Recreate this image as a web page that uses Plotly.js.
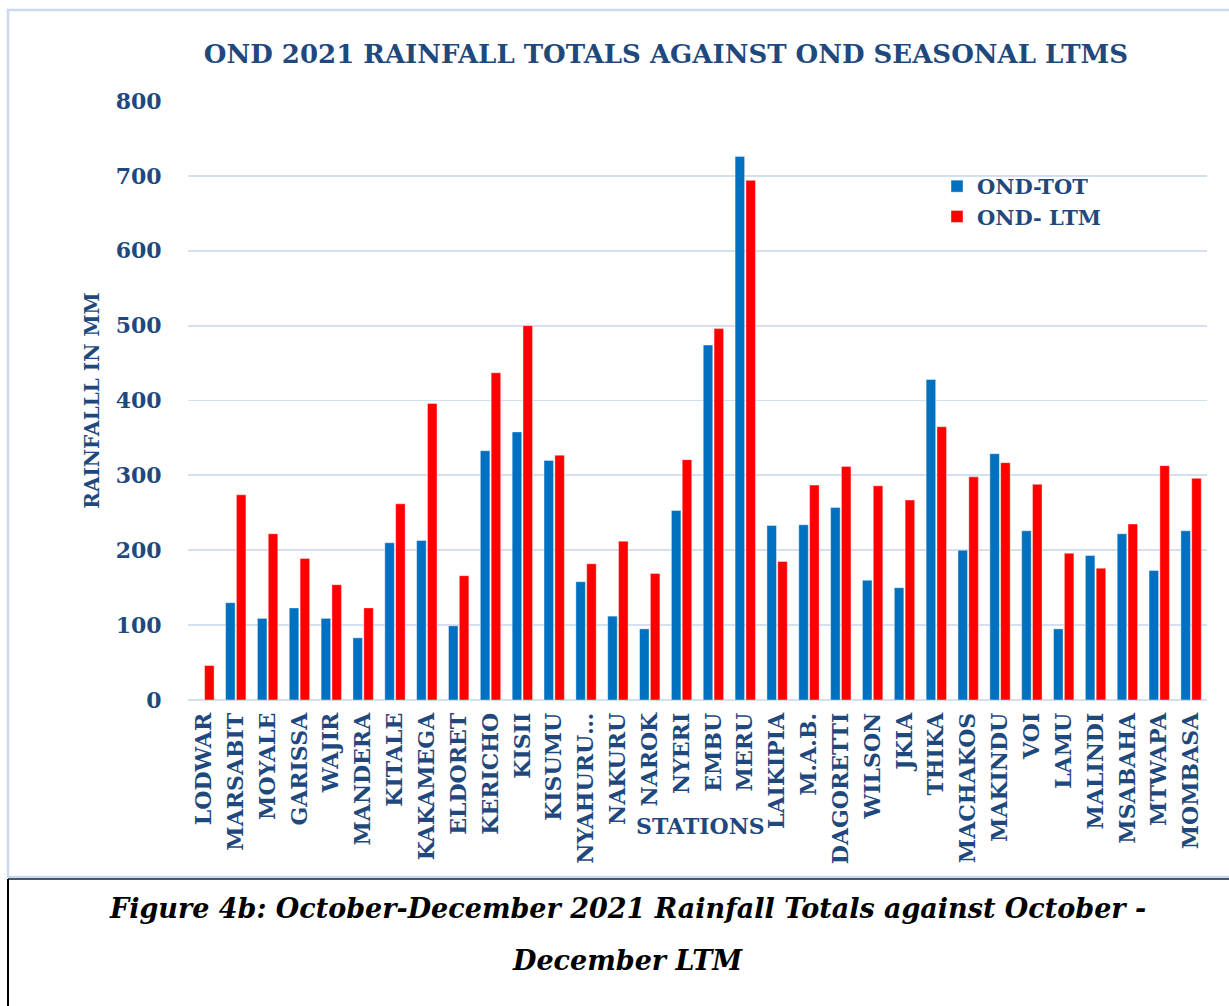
<!DOCTYPE html>
<html>
<head>
<meta charset="utf-8">
<script src="https://cdn.plot.ly/plotly-3.0.1.min.js"></script>
<style>
html,body{margin:0;padding:0;background:#fff;}
#chart{width:1229px;height:1006px;}
</style>
</head>
<body>
<div id="chart"></div>
<script>
const stations = ["LODWAR","MARSABIT","MOYALE","GARISSA","WAJIR","MANDERA","KITALE","KAKAMEGA","ELDORET","KERICHO","KISII","KISUMU","NYAHURU…","NAKURU","NAROK","NYERI","EMBU","MERU","LAIKIPIA","M.A.B.","DAGORETTI","WILSON","JKIA","THIKA","MACHAKOS","MAKINDU","VOI","LAMU","MALINDI","MSABAHA","MTWAPA","MOMBASA"];
const ondTot = [null,130,109,123,109,83,210,213,99,333,358,320,158,112,95,253,474,726,233,234,257,160,150,428,200,329,226,95,193,222,173,226];
const ondLtm = [46,274,222,189,154,123,262,396,166,437,500,327,182,212,169,321,496,694,185,287,312,286,267,365,298,317,288,196,176,235,313,296];
const yTicks = [0,100,200,300,400,500,600,700,800];

const TITLE = "OND 2021 RAINFALL TOTALS AGAINST OND SEASONAL LTMS";
const YTITLE = "RAINFALLL IN MM";
const XTITLE = "STATIONS";
const CAPTION1 = "Figure 4b: October-December 2021 Rainfall Totals against October -";
const CAPTION2 = "December LTM";

const W = 1229, H = 1006;
const L = 188, R = 1207, T = 101, B = 700;
const px = x => (x - L) / (R - L);
const py = y => (B - y) / (B - T);

const navy = "#1F497D";
const serifB = "DejaVu Serif";

const traces = [
  {type:"bar", name:"OND-TOT", x:stations, y:ondTot, marker:{color:"#0070C0", line:{color:"rgba(255,255,255,0.5)", width:0.8}}},
  {type:"bar", name:"OND- LTM", x:stations, y:ondLtm, marker:{color:"#FF0000", line:{color:"rgba(255,255,255,0.5)", width:0.8}}}
];

const layout = {
  width:W, height:H,
  margin:{l:L, r:W-R, t:T, b:H-B, pad:0},
  paper_bgcolor:"#ffffff", plot_bgcolor:"#ffffff",
  barmode:"group", bargap:0.32, bargroupgap:0.12,
  showlegend:true,
  title:{text:"<b>"+TITLE+"</b>", font:{family:serifB, size:26, color:navy}, x:666/W, xref:"container", y:1-54/H, yanchor:"middle", xanchor:"center"},
  xaxis:{type:"category", tickangle:-90, tickfont:{family:serifB, size:22, color:navy, weight:"bold"},
         ticks:"outside", ticklen:3, tickcolor:"rgba(0,0,0,0)", showgrid:false, showline:false, zeroline:false, automargin:false},
  yaxis:{range:[0,800], tickvals:yTicks, tickfont:{family:serifB, size:22, color:navy, weight:"bold"},
         ticks:"outside", ticklen:21, tickcolor:"rgba(0,0,0,0)",
         showgrid:true, gridcolor:"#D3E0F1", gridwidth:1.8, zeroline:true, zerolinecolor:"#D3E0F1", zerolinewidth:1.8, showline:false,
         title:{text:"<b>"+YTITLE+"</b>", font:{family:serifB, size:20, color:navy}, standoff:10}, automargin:false},
  legend:{x:px(937), y:py(166), xanchor:"left", yanchor:"top", bgcolor:"rgba(0,0,0,0)",
          font:{family:serifB, size:21, color:navy, weight:"bold"}, tracegroupgap:0, itemwidth:30},
  annotations:[
    {text:"<b>"+XTITLE+"</b>", xref:"paper", yref:"paper", x:px(700), y:py(826), xanchor:"center", yanchor:"middle", showarrow:false,
     font:{family:serifB, size:22, color:navy}},
    {text:"<b><i>"+CAPTION1+"</i></b>", xref:"paper", yref:"paper", x:px(627), y:py(908), xanchor:"center", yanchor:"middle", showarrow:false,
     font:{family:serifB, size:27, color:"#000000"}},
    {text:"<b><i>"+CAPTION2+"</i></b>", xref:"paper", yref:"paper", x:px(627), y:py(960), xanchor:"center", yanchor:"middle", showarrow:false,
     font:{family:serifB, size:27, color:"#000000"}}
  ],
  shapes:[
    {type:"rect", xref:"paper", yref:"paper", x0:px(8), x1:px(1240), y0:py(877), y1:py(10), line:{color:"#C9DAF0", width:2.5}, fillcolor:"rgba(0,0,0,0)", layer:"below"},
    {type:"line", xref:"paper", yref:"paper", x0:px(8), x1:px(1240), y0:py(879), y1:py(879), line:{color:"#4A5566", width:2}},
    {type:"line", xref:"paper", yref:"paper", x0:px(8), x1:px(8), y0:py(879), y1:py(1010), line:{color:"#000000", width:2}}
  ]
};

Plotly.newPlot("chart", traces, layout, {displayModeBar:false, staticPlot:true});
</script>
</body>
</html>
